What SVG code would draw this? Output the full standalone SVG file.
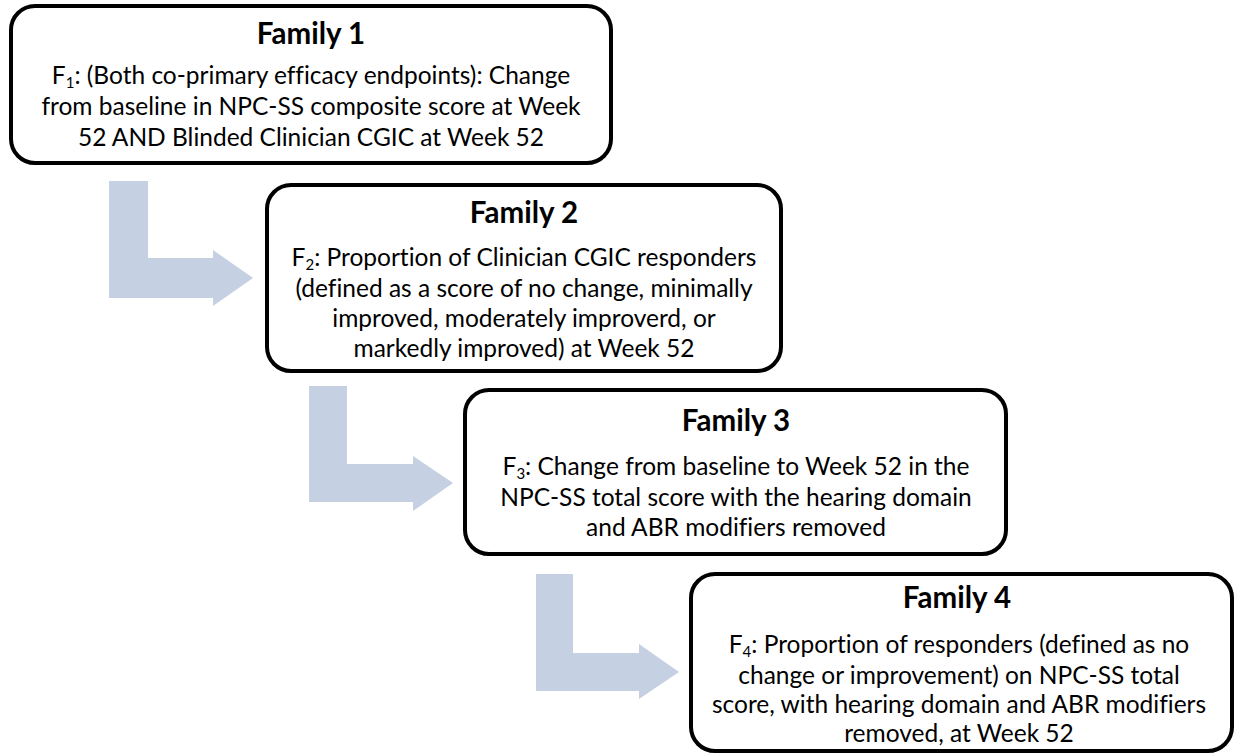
<svg xmlns="http://www.w3.org/2000/svg" width="1236" height="755" viewBox="0 0 1236 755">
<style>
.box{fill:#fff;stroke:#000;stroke-width:4}
.arrow{fill:#c5d0e3;stroke:none}
text{font-family:Lato,"Liberation Sans",sans-serif;fill:#000;text-anchor:middle;font-variant-ligatures:none;font-feature-settings:"liga" 0,"clig" 0}
.title{font-weight:bold;font-size:29.5px}
.body{font-size:24.5px}
.sub{font-size:15px}
</style>
<rect width="1236" height="755" fill="#fff"/>
<g id="connectors">
<path class="arrow" d="M109,181 H148 V258 H213 V250 L253,278 L213,306 V298 H109 Z"/>
<path class="arrow" d="M309,386 H347 V464 H413 V456 L453,483 L413,511 V502 H309 Z"/>
<path class="arrow" d="M536,574 H573 V653 H639 V644 L679,672 L639,699 V691 H536 Z"/>
</g>
<g id="family1">
<rect class="box" x="11" y="6" width="600" height="157" rx="24"/>
<text class="title" x="311" y="44">Family 1</text>
<text class="body" x="311" y="84">F<tspan class="sub" dy="4">1</tspan><tspan dy="-4">: (Both co-primary efficacy endpoints): Change</tspan></text>
<text class="body" x="311" y="115">from baseline in NPC-SS composite score at Week</text>
<text class="body" x="311" y="146">52 AND Blinded Clinician CGIC at Week 52</text>
</g>
<g id="family2">
<rect class="box" x="267" y="185" width="514" height="186" rx="24"/>
<text class="title" x="524" y="223">Family 2</text>
<text class="body" x="524" y="266">F<tspan class="sub" dy="4">2</tspan><tspan dy="-4">: Proportion of Clinician CGIC responders</tspan></text>
<text class="body" x="524" y="297">(defined as a score of no change, minimally</text>
<text class="body" x="524" y="327">improved, moderately improverd, or</text>
<text class="body" x="524" y="357">markedly improved) at Week 52</text>
</g>
<g id="family3">
<rect class="box" x="465" y="390" width="541" height="164" rx="24"/>
<text class="title" x="736" y="431">Family 3</text>
<text class="body" x="736" y="475">F<tspan class="sub" dy="4">3</tspan><tspan dy="-4">: Change from baseline to Week 52 in the</tspan></text>
<text class="body" x="736" y="506">NPC-SS total score with the hearing domain</text>
<text class="body" x="736" y="536">and ABR modifiers removed</text>
</g>
<g id="family4">
<rect class="box" x="691" y="574" width="541" height="177" rx="24"/>
<text class="title" x="957" y="608">Family 4</text>
<text class="body" x="959" y="653">F<tspan class="sub" dy="4">4</tspan><tspan dy="-4">: Proportion of responders (defined as no</tspan></text>
<text class="body" x="959" y="684">change or improvement) on NPC-SS total</text>
<text class="body" x="959" y="713">score, with hearing domain and ABR modifiers</text>
<text class="body" x="959" y="742">removed, at Week 52</text>
</g>
</svg>
